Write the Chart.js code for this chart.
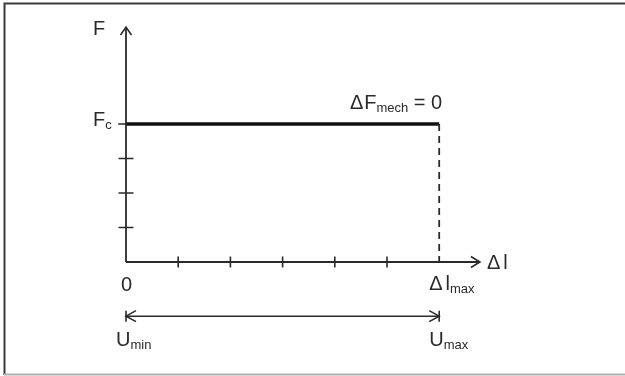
<!DOCTYPE html>
<html>
<head>
<meta charset="utf-8">
<script src="https://cdn.jsdelivr.net/npm/chart.js@4"></script>
<style>
  html, body { margin: 0; padding: 0; background: #fff; }
  #wrap { width: 625px; height: 376px; }
</style>
</head>
<body>
<div id="wrap"><canvas id="c" width="625" height="376"></canvas></div>
<script>
// ---- data ----
const xTickValues = [1, 2, 3, 4, 5];      // unlabeled ticks on Δl axis
const yTickValues = [1, 2, 3];            // unlabeled ticks on F axis
const forceX = [0, 6];                    // Δl from 0 to Δl_max
const forceY = [4, 4];                    // constant force F_c
const dlMax = 6;                          // Δl_max
const Fc = 4;                             // F_c
const xAxisEnd = 6.78;                    // arrow tip of Δl axis
const yAxisEnd = 6.81;                    // arrow tip of F axis
const uRangeLevel = -1.57;                // level of U_min–U_max arrow
const xTickLabels = ['0', 'Δl_max'];
const yTickLabels = ['F_c'];

const INK = '#2a2a2a';
const FONT = '"Liberation Sans", Arial, sans-serif';

const pts = (xs, ys) => xs.map((x, i) => ({ x, y: ys[i] }));

const framePlugin = {
  id: 'frame',
  beforeDraw(chart) {
    const ctx = chart.ctx;
    ctx.save();
    ctx.fillStyle = '#fff';
    ctx.fillRect(0, 0, chart.width, chart.height);
    ctx.lineWidth = 2;
    ctx.strokeStyle = '#3a3a3a';
    ctx.beginPath();
    ctx.moveTo(4.5, 375); ctx.lineTo(4.5, 3.5); ctx.lineTo(625, 3.5);
    ctx.stroke();
    ctx.strokeStyle = '#b0b0b0';
    ctx.beginPath();
    ctx.moveTo(4, 374.5); ctx.lineTo(625, 374.5);
    ctx.stroke();
    ctx.restore();
  }
};

function drawParts(ctx, parts, x, y, align) {
  const main = '20px ' + FONT, sub = '13px ' + FONT;
  let w = 0;
  parts.forEach(p => { ctx.font = p.sub ? sub : main; w += ctx.measureText(p.t).width + (p.gap || 0); });
  let cx = align === 'right' ? x - w : align === 'center' ? x - w / 2 : x;
  ctx.textAlign = 'left';
  ctx.textBaseline = 'alphabetic';
  parts.forEach(p => {
    ctx.font = p.sub ? sub : main;
    ctx.fillText(p.t, cx, p.sub ? y + 3 : y);
    cx += ctx.measureText(p.t).width + (p.gap || 0);
  });
}

function chevron(ctx, x, y, dir, len, half) {
  ctx.beginPath();
  if (dir === 'up') { ctx.moveTo(x - half, y + len); ctx.lineTo(x, y); ctx.lineTo(x + half, y + len); }
  if (dir === 'right') { ctx.moveTo(x - len, y - half); ctx.lineTo(x, y); ctx.lineTo(x - len, y + half); }
  if (dir === 'left') { ctx.moveTo(x + len, y - half); ctx.lineTo(x, y); ctx.lineTo(x + len, y + half); }
  ctx.stroke();
}

const annotPlugin = {
  id: 'annot',
  afterDatasetsDraw(chart) {
    const ctx = chart.ctx;
    const px = v => chart.scales.x.getPixelForValue(v);
    const py = v => chart.scales.y.getPixelForValue(v);
    ctx.save();
    ctx.strokeStyle = INK;
    ctx.lineWidth = 1.6;
    ctx.lineJoin = 'miter';
    // axis arrowheads
    chevron(ctx, px(0), py(yAxisEnd), 'up', 8, 5.5);
    chevron(ctx, px(xAxisEnd), py(0), 'right', 9, 5.5);
    // U range arrow ends
    const uy = py(uRangeLevel);
    chevron(ctx, px(0), uy, 'left', 10, 5.5);
    chevron(ctx, px(dlMax), uy, 'right', 10, 5.5);
    ctx.beginPath();
    ctx.moveTo(px(0), uy - 5.5); ctx.lineTo(px(0), uy + 5.5);
    ctx.moveTo(px(dlMax), uy - 5.5); ctx.lineTo(px(dlMax), uy + 5.5);
    ctx.stroke();

    // texts
    ctx.fillStyle = INK;
    drawParts(ctx, [{ t: 'F' }], 93, 35, 'left');
    drawParts(ctx, [{ t: yTickLabels[0].split('_')[0] }, { t: yTickLabels[0].split('_')[1], sub: true }], 93, py(Fc) + 2, 'left');
    drawParts(ctx, [{ t: 'Δ', gap: 1 }, { t: 'F' }, { t: 'mech', sub: true }, { t: ' = 0' }], px(dlMax) + 3, py(Fc) - 15, 'right');
    drawParts(ctx, [{ t: 'Δ', gap: 3 }, { t: 'l' }], px(xAxisEnd) + 7, py(0) + 7, 'left');
    drawParts(ctx, [{ t: xTickLabels[0] }], px(0) + 0.5, py(0) + 29, 'center');
    drawParts(ctx, [{ t: 'Δ', gap: 3 }, { t: 'l' }, { t: 'max', sub: true }], px(dlMax) - 10, py(0) + 28, 'left');
    drawParts(ctx, [{ t: 'U' }, { t: 'min', sub: true }], px(0) - 10, uy + 30, 'left');
    drawParts(ctx, [{ t: 'U' }, { t: 'max', sub: true }], px(dlMax) - 10, uy + 30, 'left');
    ctx.restore();
  }
};

const lineDs = (data, extra) => Object.assign({
  type: 'line', data, borderColor: INK, borderWidth: 1.8, pointRadius: 0,
  fill: false, tension: 0, showLine: true
}, extra);

new Chart(document.getElementById('c'), {
  type: 'scatter',
  data: {
    datasets: [
      lineDs([{ x: 0, y: 0 }, { x: 0, y: yAxisEnd }]),
      lineDs([{ x: 0, y: 0 }, { x: xAxisEnd, y: 0 }]),
      lineDs([{ x: -0.15, y: Fc }, { x: 0, y: Fc }], { borderWidth: 1.5 }),
      lineDs([{ x: dlMax, y: Fc }, { x: dlMax, y: -0.13 }], { borderDash: [7, 5], borderWidth: 1.8 }),
      lineDs(pts(forceX, forceY), { borderColor: '#111', borderWidth: 3.5 }),
      lineDs([{ x: 0, y: uRangeLevel }, { x: dlMax, y: uRangeLevel }], { borderWidth: 1.5 }),
      {
        type: 'scatter', data: xTickValues.map(v => ({ x: v, y: 0 })),
        pointStyle: 'line', rotation: 90, radius: 5.5, borderWidth: 1.6,
        borderColor: INK, backgroundColor: INK
      },
      {
        type: 'scatter', data: yTickValues.map(v => ({ x: 0, y: v })),
        pointStyle: 'line', rotation: 0, radius: 7.5, borderWidth: 1.6,
        borderColor: INK, backgroundColor: INK
      }
    ]
  },
  options: {
    responsive: false,
    animation: false,
    events: [],
    layout: { padding: { left: 21.6, right: 81.4, top: 20.5, bottom: 10.5 } },
    plugins: { legend: { display: false }, tooltip: { enabled: false } },
    scales: {
      x: { type: 'linear', min: -2, max: 8, display: false },
      y: { type: 'linear', min: -3, max: 7, display: false }
    }
  },
  plugins: [framePlugin, annotPlugin]
});
</script>
</body>
</html>
